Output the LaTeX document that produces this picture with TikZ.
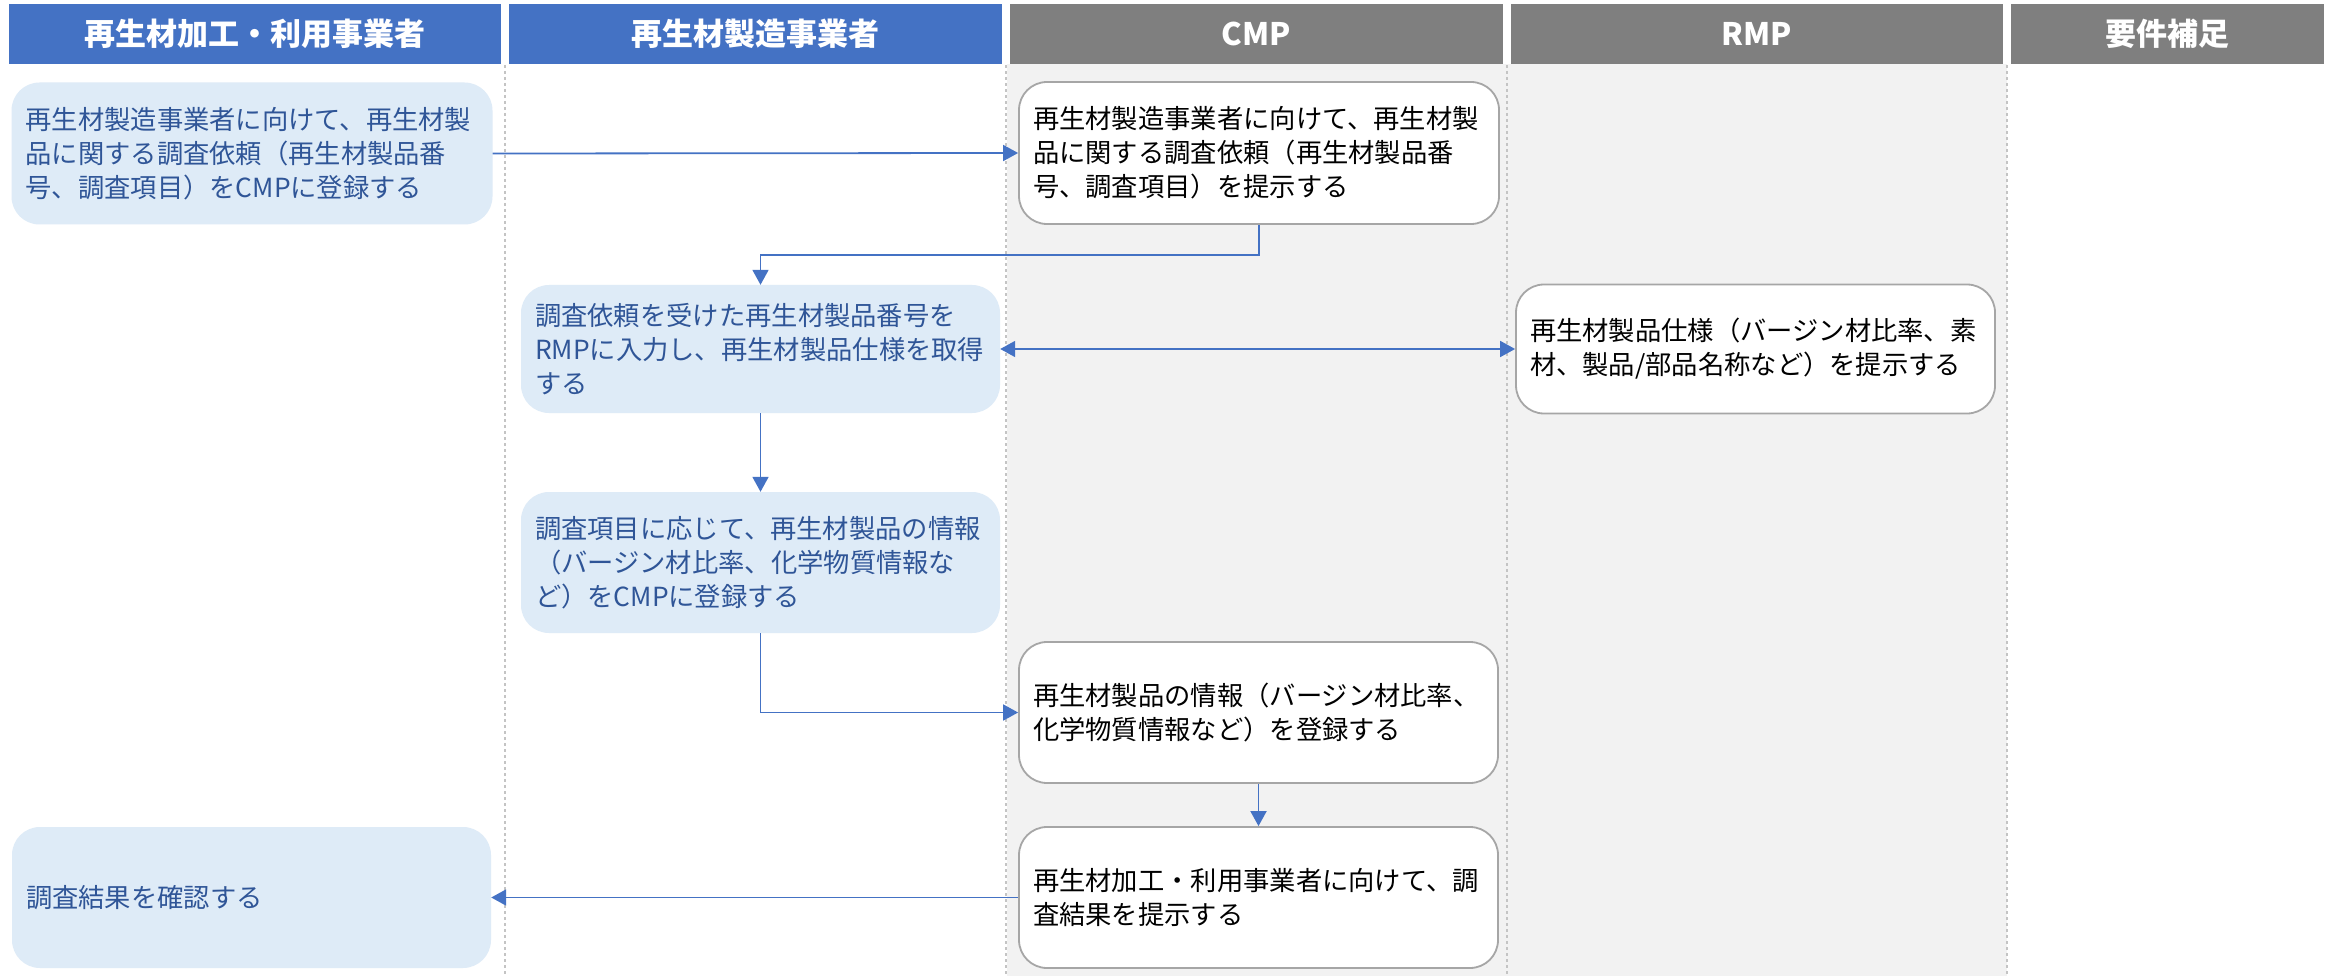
\documentclass[tikz,border=0pt]{standalone}
\usepackage{fontspec}
\setmainfont{Noto Sans CJK JP}
\usetikzlibrary{arrows.meta,calc}
\definecolor{hblue}{HTML}{4472C4}
\definecolor{hgray}{HTML}{7F7F7F}
\definecolor{lanebg}{HTML}{F2F2F2}
\definecolor{divgray}{HTML}{C4C4C4}
\definecolor{boxblue}{HTML}{DEEBF7}
\definecolor{txtblue}{HTML}{2F5597}
\definecolor{bordgray}{HTML}{A6A6A6}
\definecolor{arrblue}{HTML}{4472C4}
\tikzset{
  hdr/.style={minimum height=60pt, inner sep=0pt, text=white, font=\fontsize{31}{36}\selectfont\bfseries},
  basebox/.style={rounded corners=28pt, inner xsep=14pt, inner ysep=0pt, align=left,
    font=\fontsize{26.3}{34}\selectfont},
  bluebox/.style={basebox, fill=boxblue, text=txtblue},
  whitebox/.style={basebox, fill=white, draw=bordgray, line width=1.8pt, text=black},
  flow/.style={draw=arrblue, line width=1.8pt, -{Triangle[length=15pt,width=16pt]}},
  flow2/.style={draw=arrblue, line width=1.8pt, {Triangle[length=15pt,width=16pt]}-{Triangle[length=15pt,width=16pt]}},
  divider/.style={draw=divgray, line width=1.5pt, dash pattern=on 3pt off 3pt}
}
\begin{document}
\begin{tikzpicture}[x=1pt,y=-1pt]
\useasboundingbox (0,0) rectangle (2331,976);
\fill[white] (0,0) rectangle (2331,976);
% lane backgrounds
\fill[lanebg] (1007,64) rectangle (2007,976);
% headers
\node[hdr, fill=hblue, minimum width=492pt] (h1) at (255,34) {再生材加工・利用事業者};
\node[hdr, fill=hblue, minimum width=493pt] (h2) at (755.5,34) {再生材製造事業者};
\node[hdr, fill=hgray, minimum width=493pt] (h3) at (1256.5,34) {CMP};
\node[hdr, fill=hgray, minimum width=492pt] (h4) at (1757,34) {RMP};
\node[hdr, fill=hgray, minimum width=313pt] (h5) at (2167.5,34) {要件補足};
% dividers
\coordinate (d1t) at (505,65); \coordinate (d1b) at (505,976);
\coordinate (d2t) at (1006,65); \coordinate (d2b) at (1006,976);
\coordinate (d3t) at (1507,65); \coordinate (d3b) at (1507,976);
\coordinate (d4t) at (2007,65); \coordinate (d4b) at (2007,976);
\draw[divider] (d1t) -- (d1b);
\draw[divider] (d2t) -- (d2b);
\draw[divider] (d3t) -- (d3b);
\draw[divider] (d4t) -- (d4b);
% boxes
\node[bluebox, minimum width=481pt, minimum height=142pt, text width=453pt] (a1) at (252,153.5)
  {再生材製造事業者に向けて、再生材製\\品に関する調査依頼（再生材製品番\\号、調査項目）をCMPに登録する};
\node[whitebox, minimum width=480pt, minimum height=142pt, text width=452pt] (b1) at (1259,153)
  {再生材製造事業者に向けて、再生材製\\品に関する調査依頼（再生材製品番\\号、調査項目）を提示する};
\node[bluebox, minimum width=479pt, minimum height=128pt, text width=451pt] (c1) at (760.5,349)
  {調査依頼を受けた再生材製品番号を\\RMPに入力し、再生材製品仕様を取得\\する};
\node[whitebox, minimum width=479pt, minimum height=129pt, text width=451pt] (d1) at (1755.5,349)
  {再生材製品仕様（バージン材比率、素\\材、製品/部品名称など）を提示する};
\node[bluebox, minimum width=479pt, minimum height=141pt, text width=451pt] (c2) at (760.5,562.5)
  {調査項目に応じて、再生材製品の情報\\（バージン材比率、化学物質情報な\\ど）をCMPに登録する};
\node[whitebox, minimum width=479pt, minimum height=141pt, text width=451pt] (b2) at (1258.5,712.5)
  {再生材製品の情報（バージン材比率、\\化学物質情報など）を登録する};
\node[whitebox, minimum width=479pt, minimum height=141pt, text width=451pt] (b3) at (1258.5,897.5)
  {再生材加工・利用事業者に向けて、調\\査結果を提示する};
\node[bluebox, minimum width=479pt, minimum height=141pt, text width=451pt] (a2) at (251.5,897.5)
  {調査結果を確認する};
% connectors
\draw[flow] (a1.east) -- (b1.west);
\draw[flow] (b1.south) -- ++(0,30) -| (c1.north);
\draw[flow2] (c1.east) -- (d1.west);
\draw[flow] (c1.south) -- (c2.north);
\draw[flow] (c2.south) |- (b2.west);
\draw[flow] (b2.south) -- (b3.north);
\draw[flow] (b3.west) -- (a2.east);
\end{tikzpicture}
\end{document}
